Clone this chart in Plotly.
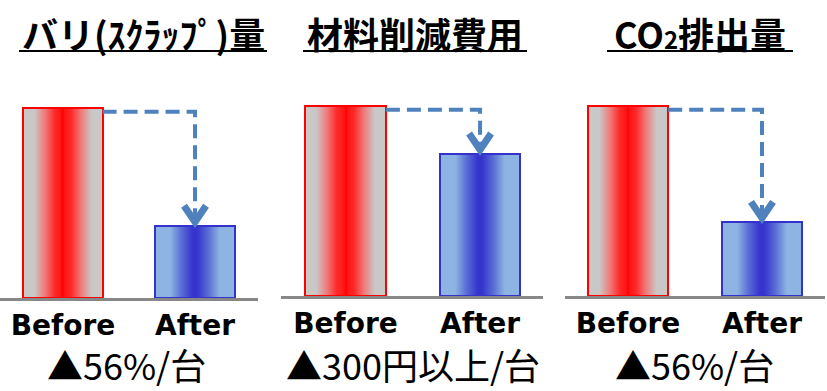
import plotly.graph_objects as go

# ---- data ----
panel_titles = ["バリ(ｽｸﾗｯﾌﾟ)量", "材料削減費用", "CO<span style='font-size:24px'>2</span>排出量"]
categories = ["Before", "After"]
before_values = [100, 100, 100]
after_values = [38, 75, 39]
results = ["▲56%/台", "▲300円以上/台", "▲56%/台"]

# ---- layout constants (pixels) ----
W, H = 827, 391
x_domains_px = [(0, 258), (281, 543), (565, 825)]
x_ranges = [(-0.477, 1.477), (-0.48, 1.468), (-0.47, 1.47)]
base_px = [298, 296, 296]
top_px = 58
px_per_unit = 1.9
bar_w = 0.6
title_px = [(19, 267), (303, 527), (607, 793)]
result_cx = [126, 413, 694]

RED_STOPS = [(0, (255, 0, 0)), (0.05, (255, 22, 22)), (0.2, (255, 40, 40)),
             (0.45, (240, 122, 122)), (0.72, (202, 199, 199)), (1.0, (202, 199, 199))]
BLUE_STOPS = [(0, (51, 51, 204)), (0.08, (56, 56, 206)), (0.35, (92, 112, 214)),
              (0.62, (141, 180, 226)), (1.0, (141, 180, 226))]


def color_at(stops, d):
    for (d0, c0), (d1, c1) in zip(stops[:-1], stops[1:]):
        if d0 <= d <= d1:
            t = (d - d0) / (d1 - d0) if d1 > d0 else 0
            c = [round(a + (b - a) * t) for a, b in zip(c0, c1)]
            return f"rgb({c[0]},{c[1]},{c[2]})"
    c = stops[-1][1]
    return f"rgb({c[0]},{c[1]},{c[2]})"


fig = go.Figure()
N = 40
ARROW = "#4F81BD"

for i in range(3):
    sfx = "" if i == 0 else str(i + 1)
    xa, ya = "x" + sfx, "y" + sfx
    xnum = [0, 1]
    vals = [before_values[i], after_values[i]]
    # gradient bars (nested)
    for k in range(N):
        d = 1 - k / N
        dc = max(d - 0.5 / N, 0)
        fig.add_trace(go.Bar(
            x=xnum, y=vals, xaxis=xa, yaxis=ya,
            width=[bar_w * d] * 2,
            marker=dict(color=[color_at(RED_STOPS, dc), color_at(BLUE_STOPS, dc)], line=dict(width=0)),
            showlegend=False, hoverinfo="skip"))
    # outlines
    fig.add_trace(go.Bar(
        x=xnum, y=vals, xaxis=xa, yaxis=ya, width=[bar_w] * 2,
        marker=dict(color="rgba(0,0,0,0)", line=dict(color=["#FF0000", "#3333CC"], width=2)),
        showlegend=False, hoverinfo="skip"))
    # dashed arrow
    ppu_x = (x_domains_px[i][1] - x_domains_px[i][0]) / (x_ranges[i][1] - x_ranges[i][0])
    y_arrow = before_values[i] - 2
    fig.add_trace(go.Scatter(
        x=[bar_w / 2, 1, 1], y=[y_arrow, y_arrow, after_values[i] + 4],
        xaxis=xa, yaxis=ya, mode="lines",
        line=dict(color=ARROW, width=4, dash="14px,7px"),
        cliponaxis=False, showlegend=False, hoverinfo="skip"))
    hx = 11 / ppu_x
    hy = 20 / px_per_unit
    fig.add_trace(go.Scatter(
        x=[1 - hx, 1, 1 + hx], y=[after_values[i] + hy, after_values[i] + 2, after_values[i] + hy],
        xaxis=xa, yaxis=ya, mode="lines",
        line=dict(color=ARROW, width=7),
        cliponaxis=False, showlegend=False, hoverinfo="skip"))

    dom = [x_domains_px[i][0] / W, x_domains_px[i][1] / W]
    ydom = [(H - base_px[i]) / H, (H - top_px) / H]
    yr = (base_px[i] - top_px) / px_per_unit
    fig.layout["xaxis" + sfx] = dict(
        domain=dom, range=list(x_ranges[i]), anchor=ya,
        showline=True, linecolor="#888888", linewidth=3,
        showgrid=False, zeroline=False, ticks="",
        tickvals=xnum, ticktext=categories,
        tickfont=dict(family="DejaVu Sans", size=28, color="black", weight="bold"),
        fixedrange=True)
    fig.layout["yaxis" + sfx] = dict(
        domain=ydom, range=[0, yr], anchor=xa, visible=False,
        showgrid=False, zeroline=False, fixedrange=True)

    # title
    cx = (title_px[i][0] + title_px[i][1]) / 2
    fig.add_annotation(
        x=cx / W, y=1 - 33 / H, xref="paper", yref="paper",
        xanchor="center", yanchor="middle", showarrow=False,
        text=panel_titles[i],
        font=dict(family="Noto Sans CJK JP", size=36, color="black", weight="bold"))
    fig.add_shape(type="line", xref="paper", yref="paper",
                  x0=title_px[i][0] / W, x1=title_px[i][1] / W,
                  y0=1 - 51 / H, y1=1 - 51 / H,
                  line=dict(color="black", width=2))
    # result text
    fig.add_annotation(
        x=result_cx[i] / W, y=1 - 364 / H, xref="paper", yref="paper",
        xanchor="center", yanchor="middle", showarrow=False,
        text=results[i],
        font=dict(family="Noto Sans CJK JP", size=36, color="black"))

fig.update_layout(
    width=W, height=H, margin=dict(l=0, r=0, t=0, b=0),
    paper_bgcolor="white", plot_bgcolor="white",
    barmode="overlay", bargap=0, showlegend=False)

fig.write_html("out.html", config={"displayModeBar": False})
